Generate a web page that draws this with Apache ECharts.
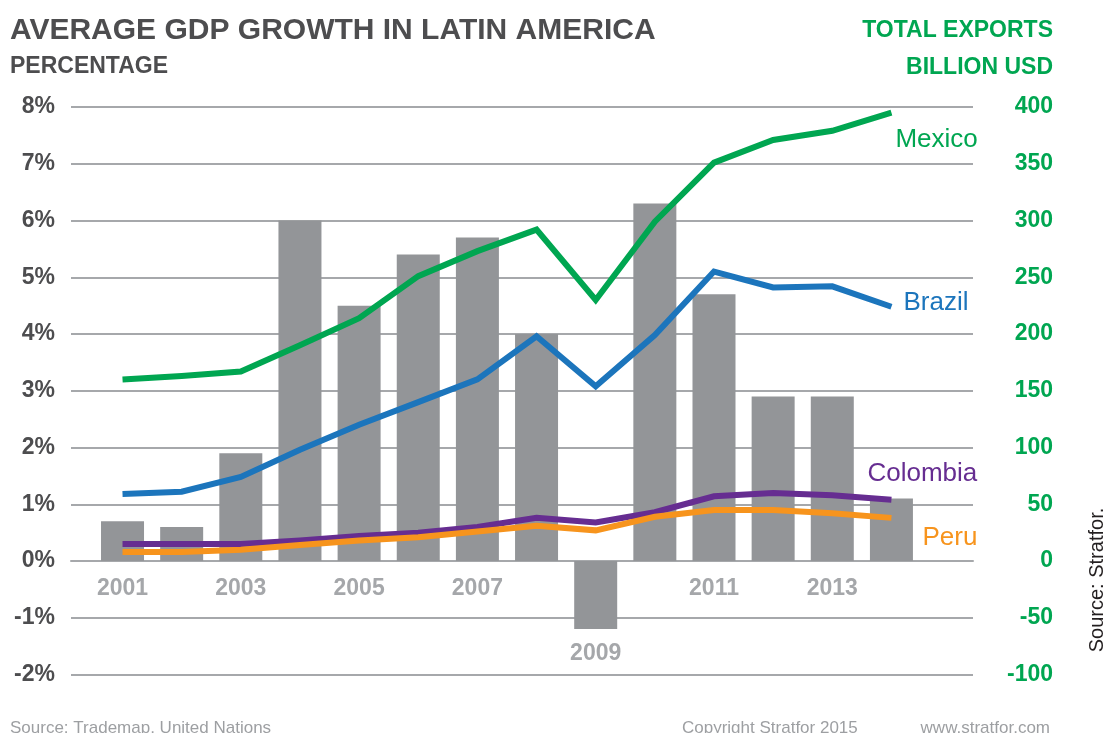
<!DOCTYPE html>
<html>
<head>
<meta charset="utf-8">
<script src="https://cdn.jsdelivr.net/npm/echarts@6/dist/echarts.min.js"></script>
<style>
  html, body { margin: 0; padding: 0; background: #fff; }
  #chart { width: 1107px; height: 733px; }
</style>
</head>
<body>
<div id="chart"></div>
<script>
// Years on the horizontal axis
const years = [2001, 2002, 2003, 2004, 2005, 2006, 2007, 2008, 2009, 2010, 2011, 2012, 2013, 2014];
// Average GDP growth, percent (bars, left axis)
const gdpGrowth = [0.7, 0.6, 1.9, 6.0, 4.5, 5.4, 5.7, 4.0, -1.2, 6.3, 4.7, 2.9, 2.9, 1.1];
// Total exports, billion USD (lines, right axis)
const mexicoExports = [160, 163, 167, 190, 214, 251, 273, 292, 230, 299, 351, 371, 379, 395];
const brazilExports = [59, 61, 74, 98, 120, 140, 160, 198, 154, 199, 255, 241, 242, 224];
const colombiaExports = [15, 15, 15, 18, 22, 25, 30, 38, 34, 43, 57, 60, 58, 54];
const peruExports = [8, 8, 10, 14, 18, 21, 26, 31, 27, 39, 45, 45, 42, 38];
// Tick labels
const yearLabels = [2001, 2003, 2005, 2007, 2009, 2011, 2013];
const pctTicks = { min: -2, max: 8, step: 1 };
const usdTicks = { min: -100, max: 400, step: 50 };

const FONT = '"Liberation Sans", Arial, Helvetica, sans-serif';
const pair = (vals) => years.map((y, i) => [y, vals[i]]);

// Plot area in pixels; the year axis sits on the 0% line
const GRID = { left: 71, right: 134, top: 107, bottom: 58.5 };
const plotHeight = 733 - GRID.top - GRID.bottom;
const zeroLift = plotHeight * (0 - pctTicks.min) / (pctTicks.max - pctTicks.min);

const chart = echarts.init(document.getElementById('chart'), null, { renderer: 'canvas' });

function lineSeries(name, vals, color, offset) {
  return {
    name: name,
    type: 'line',
    yAxisIndex: 1,
    data: pair(vals),
    showSymbol: false,
    symbol: 'none',
    lineStyle: { color: color, width: 6, cap: 'butt', join: 'miter' },
    itemStyle: { color: color },
    z: 3,
    endLabel: {
      show: true,
      formatter: name,
      color: color,
      fontFamily: FONT,
      fontSize: 26,
      offset: offset
    },
    emphasis: { disabled: true },
    animation: false
  };
}

chart.setOption({
  animation: false,
  textStyle: { fontFamily: FONT },
  grid: Object.assign({ containLabel: false, outerBoundsMode: 'none' }, GRID),
  xAxis: {
    type: 'value',
    min: 2000.129,
    max: 2015.379,
    offset: -zeroLift,
    splitLine: { show: false },
    axisTick: { show: false },
    axisLine: { show: true, onZero: false, lineStyle: { color: '#a6a8ab', width: 2 } },
    axisLabel: {
      customValues: yearLabels,
      margin: 16,
      formatter: (v) => (v === 2009 ? '{low|' + v + '}' : '{n|' + v + '}'),
      rich: {
        n: { fontFamily: FONT, fontSize: 23, fontWeight: 'bold', color: '#a5a7aa' },
        low: { fontFamily: FONT, fontSize: 23, fontWeight: 'bold', color: '#a5a7aa', padding: [65, 0, 0, 0] }
      }
    }
  },
  yAxis: [
    {
      type: 'value',
      min: pctTicks.min,
      max: pctTicks.max,
      interval: pctTicks.step,
      position: 'left',
      axisLine: { show: false },
      axisTick: { show: false },
      splitLine: { show: true, lineStyle: { color: '#a6a8ab', width: 2 } },
      axisLabel: {
        formatter: '{value}%',
        margin: 16,
        padding: [4, 0, 0, 0],
        fontFamily: FONT,
        fontSize: 23,
        fontWeight: 'bold',
        color: '#4d4d4f'
      }
    },
    {
      type: 'value',
      min: usdTicks.min,
      max: usdTicks.max,
      interval: usdTicks.step,
      position: 'right',
      axisLine: { show: false },
      axisTick: { show: false },
      splitLine: { show: false },
      axisLabel: {
        margin: 80,
        align: 'right',
        padding: [4, 0, 0, 0],
        fontFamily: FONT,
        fontSize: 23,
        fontWeight: 'bold',
        color: '#00a651'
      }
    }
  ],
  series: [
    {
      name: 'GDP growth',
      type: 'bar',
      data: pair(gdpGrowth),
      barWidth: 43,
      itemStyle: { color: '#939598' },
      z: 2,
      emphasis: { disabled: true }
    },
    lineSeries('Mexico', mexicoExports, '#00a651', [-4, 27]),
    lineSeries('Brazil', brazilExports, '#1c75bc', [4, -4]),
    lineSeries('Colombia', colombiaExports, '#662d91', [-32, -26]),
    lineSeries('Peru', peruExports, '#f7941d', [23, 20])
  ],
  graphic: [
    { type: 'text', x: 10, y: 31, style: { text: 'AVERAGE GDP GROWTH IN LATIN AMERICA', font: 'bold 30px ' + FONT, fill: '#4d4d4f', verticalAlign: 'middle' } },
    { type: 'text', x: 10, y: 67, style: { text: 'PERCENTAGE', font: 'bold 23px ' + FONT, fill: '#4d4d4f', verticalAlign: 'middle' } },
    { type: 'text', x: 1053, y: 31, style: { text: 'TOTAL EXPORTS', font: 'bold 23px ' + FONT, fill: '#00a651', align: 'right', verticalAlign: 'middle' } },
    { type: 'text', x: 1053, y: 68, style: { text: 'BILLION USD', font: 'bold 23px ' + FONT, fill: '#00a651', align: 'right', verticalAlign: 'middle' } },
    { type: 'text', x: 1097, y: 580, rotation: Math.PI / 2, style: { text: 'Source: Stratfor.', font: '20px ' + FONT, fill: '#231f20', align: 'center', verticalAlign: 'middle' } },
    { type: 'text', x: 10, y: 728, style: { text: 'Source: Trademap, United Nations', font: '17px ' + FONT, fill: '#9d9fa2', verticalAlign: 'middle' } },
    { type: 'text', x: 682, y: 728, style: { text: 'Copyright Stratfor 2015', font: '17px ' + FONT, fill: '#9d9fa2', verticalAlign: 'middle' } },
    { type: 'text', x: 1050, y: 728, style: { text: 'www.stratfor.com', font: '17px ' + FONT, fill: '#9d9fa2', align: 'right', verticalAlign: 'middle' } }
  ]
});
</script>
</body>
</html>
